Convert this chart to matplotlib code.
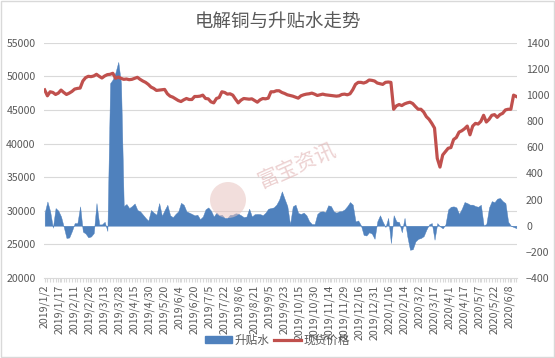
import numpy as np
import matplotlib
matplotlib.use("Agg")
import matplotlib.pyplot as plt
from matplotlib.patches import Patch, Circle, Rectangle
from matplotlib.lines import Line2D
import matplotlib.transforms as mtransforms

plt.rcParams['font.family'] = ['Noto Sans CJK SC', 'DejaVu Sans']

title = "电解铜与升贴水走势"
series_names = ["升贴水", "现货价格"]
date_labels = ["2019/1/2", "2019/1/17", "2019/2/11", "2019/2/26", "2019/3/13", "2019/3/28",
               "2019/4/15", "2019/4/30", "2019/5/20", "2019/6/4", "2019/6/20", "2019/7/5",
               "2019/7/22", "2019/8/6", "2019/8/21", "2019/9/5", "2019/9/23", "2019/10/15",
               "2019/10/30", "2019/11/14", "2019/11/29", "2019/12/16", "2019/12/31", "2020/1/16",
               "2020/2/14", "2020/3/2", "2020/3/17", "2020/4/1", "2020/4/17", "2020/5/7",
               "2020/5/22", "2020/6/8"]
n_days = 347          # trading days on the category axis
label_step = 11       # one date label every 11 trading days
sample_step = 2       # values read every 2 trading days

# spot price (left axis), read every 2nd trading day
price = [47980, 47100, 47700, 47600, 47300, 47500, 47950, 47600, 47300, 47500,
         47750, 48100, 48200, 48250, 49300, 49800, 50000, 49950, 50050, 50300,
         50000, 49750, 50050, 50250, 50300, 50450, 49700, 49900, 49700, 49550,
         49600, 49500, 49550, 49700, 49850, 49550, 49300, 49100, 48800, 48400,
         48200, 47900, 47950, 48000, 48050, 47400, 47050, 46900, 46650, 46400,
         46250, 46500, 46700, 46550, 46550, 47000, 47000, 47050, 47200, 46700,
         46650, 46200, 46050, 46700, 46850, 47700, 47600, 47350, 47400, 47200,
         46600, 46050, 46450, 46700, 46650, 46600, 46650, 46400, 46150, 46500,
         46700, 46650, 46750, 47700, 47700, 47850, 47850, 47600, 47450, 47250,
         47150, 47050, 46900, 46750, 47100, 47250, 47350, 47400, 47500, 47350,
         47150, 47250, 47350, 47250, 47200, 47150, 47100, 47050, 47100, 47300,
         47350, 47250, 47400, 48000, 48800, 49100, 49100, 49000, 49150, 49450,
         49400, 49300, 49000, 48900, 48800, 49100, 49150, 49100, 45100, 45600,
         45800, 45650, 45900, 46050, 46150, 45950, 45500, 45100, 45100, 44700,
         44000, 43600, 43000, 42300, 37800, 36500, 38300, 38800, 39300, 39400,
         40600, 40900, 41700, 41900, 42200, 42600, 41300, 42600, 43000, 42900,
         43300, 44200, 43200, 43600, 44200, 44300, 43900, 44300, 44500, 45000,
         45100, 45100, 47200, 47000]

# premium / discount (right axis), read every 2nd trading day
premium = [100, 185, 110, -15, 135, 115, 70, -10, -94, -90,
           -40, 20, 20, 148, -45, -60, -89, -82, -56, 173,
           10, 10, 30, -40, 1090, 1120, 1175, 1253, 1088, 150,
           166, 135, 150, 170, 120, 110, 85, 60, 38, 120,
           100, 84, 173, 75, 120, 160, 80, 65, 90, 110,
           175, 160, 110, 100, 90, 79, 84, 50, 70, 125,
           140, 115, 70, 100, 80, 84, 60, 60, 84, 84,
           95, 92, 80, 66, 70, 130, 70, 88, 90, 89,
           80, 100, 130, 135, 140, 161, 199, 263, 205, 150,
           10, 148, 161, 97, 90, 100, 80, 35, 13, 13,
           90, 108, 110, 105, 156, 150, 110, 100, 110, 112,
           125, 150, 181, 161, 33, 40, 3, -70, -75, -50,
           -60, -100, 33, 80, 30, -10, 60, -133, 80, 33,
           28, -50, 60, -80, -184, -180, -120, -100, -94, -80,
           -30, 10, 20, -107, 20, -5, -20, 10, 125, 145,
           148, 140, 90, 130, 181, 173, 161, 161, 150, 145,
           160, 3, 13, 140, 188, 180, 207, 212, 188, 173,
           30, 0, -10, -18]

left_ticks = list(range(20000, 55001, 5000))
right_ticks = list(range(-400, 1401, 200))

blue = '#4f81bd'
red = '#c0504d'
txt = '#595959'
grid_c = '#d9d9d9'

x = np.arange(0, n_days, sample_step)

fig = plt.figure(figsize=(5.55, 3.58), dpi=100)
ax = fig.add_axes([44/555, 1-278/358, (517-44)/555, (278-42.7)/358])
ax2 = ax.twinx()
ax2.set_zorder(1)
ax.set_zorder(2)
ax.patch.set_visible(False)

ax.set_ylim(left_ticks[0], left_ticks[-1])
ax2.set_ylim(right_ticks[0], right_ticks[-1])
ax.set_xlim(-0.5, n_days - 0.5)

# gridlines behind the area (belong to left axis ticks)
trans = mtransforms.blended_transform_factory(ax2.transAxes, ax.transData)
for v in left_ticks[1:]:
    ax2.plot([0, 1], [v, v], transform=trans, color=grid_c, lw=0.8, zorder=0)

ax2.fill_between(x, 0, premium, color=blue, lw=0.3, edgecolor=blue, zorder=2)
ax.plot(x, price, color=red, lw=2.3, solid_joinstyle='round', zorder=3)

ax.set_yticks(left_ticks)
ax2.set_yticks(right_ticks)
ax.set_xticks(np.arange(len(date_labels)) * label_step)
ax.set_xticklabels(date_labels, rotation=90, fontsize=7.6, color=txt)
ax.set_xticks(np.arange(0, n_days, 2), minor=True)

ax.tick_params(axis='x', which='both', length=3, color=grid_c, width=0.8, pad=2)
ax.tick_params(axis='y', length=0, pad=6, labelsize=7.6, labelcolor=txt)
ax2.tick_params(axis='y', length=0, pad=6.5, labelsize=7.6, labelcolor=txt)

for a in (ax, ax2):
    for s in a.spines.values():
        s.set_visible(False)
ax.spines['bottom'].set_visible(True)
ax.spines['bottom'].set_color(grid_c)
ax.spines['bottom'].set_linewidth(0.8)

fig.text(0.5, 0.936, title, ha='center', va='center', fontsize=13.3, color=txt)

handles = [Patch(facecolor=blue, edgecolor=blue), Line2D([], [], color=red, lw=2.3)]
fig.legend(handles, series_names, loc='center', bbox_to_anchor=(0.5, 0.05), ncol=2,
           frameon=False, fontsize=8.4, labelcolor=txt, handlelength=2.3,
           handleheight=0.6, columnspacing=0.4, handletextpad=0.2)

# watermark
fig.patches.append(Circle((2.28, 3.58 - 2.00), 0.18, transform=fig.dpi_scale_trans,
                          facecolor='#e8c4c0', edgecolor='none', alpha=0.55, zorder=5))
fig.text(0.535, 0.536, "富宝资讯", rotation=24, fontsize=15, color='#e3b9b9', alpha=0.65,
         ha='center', va='center', zorder=5)

fig.patches.append(Rectangle((0.001, 0.0015), 0.997, 0.996, transform=fig.transFigure,
                             fill=False, edgecolor=grid_c, lw=1.0))

fig.savefig('out.png', dpi=100)
